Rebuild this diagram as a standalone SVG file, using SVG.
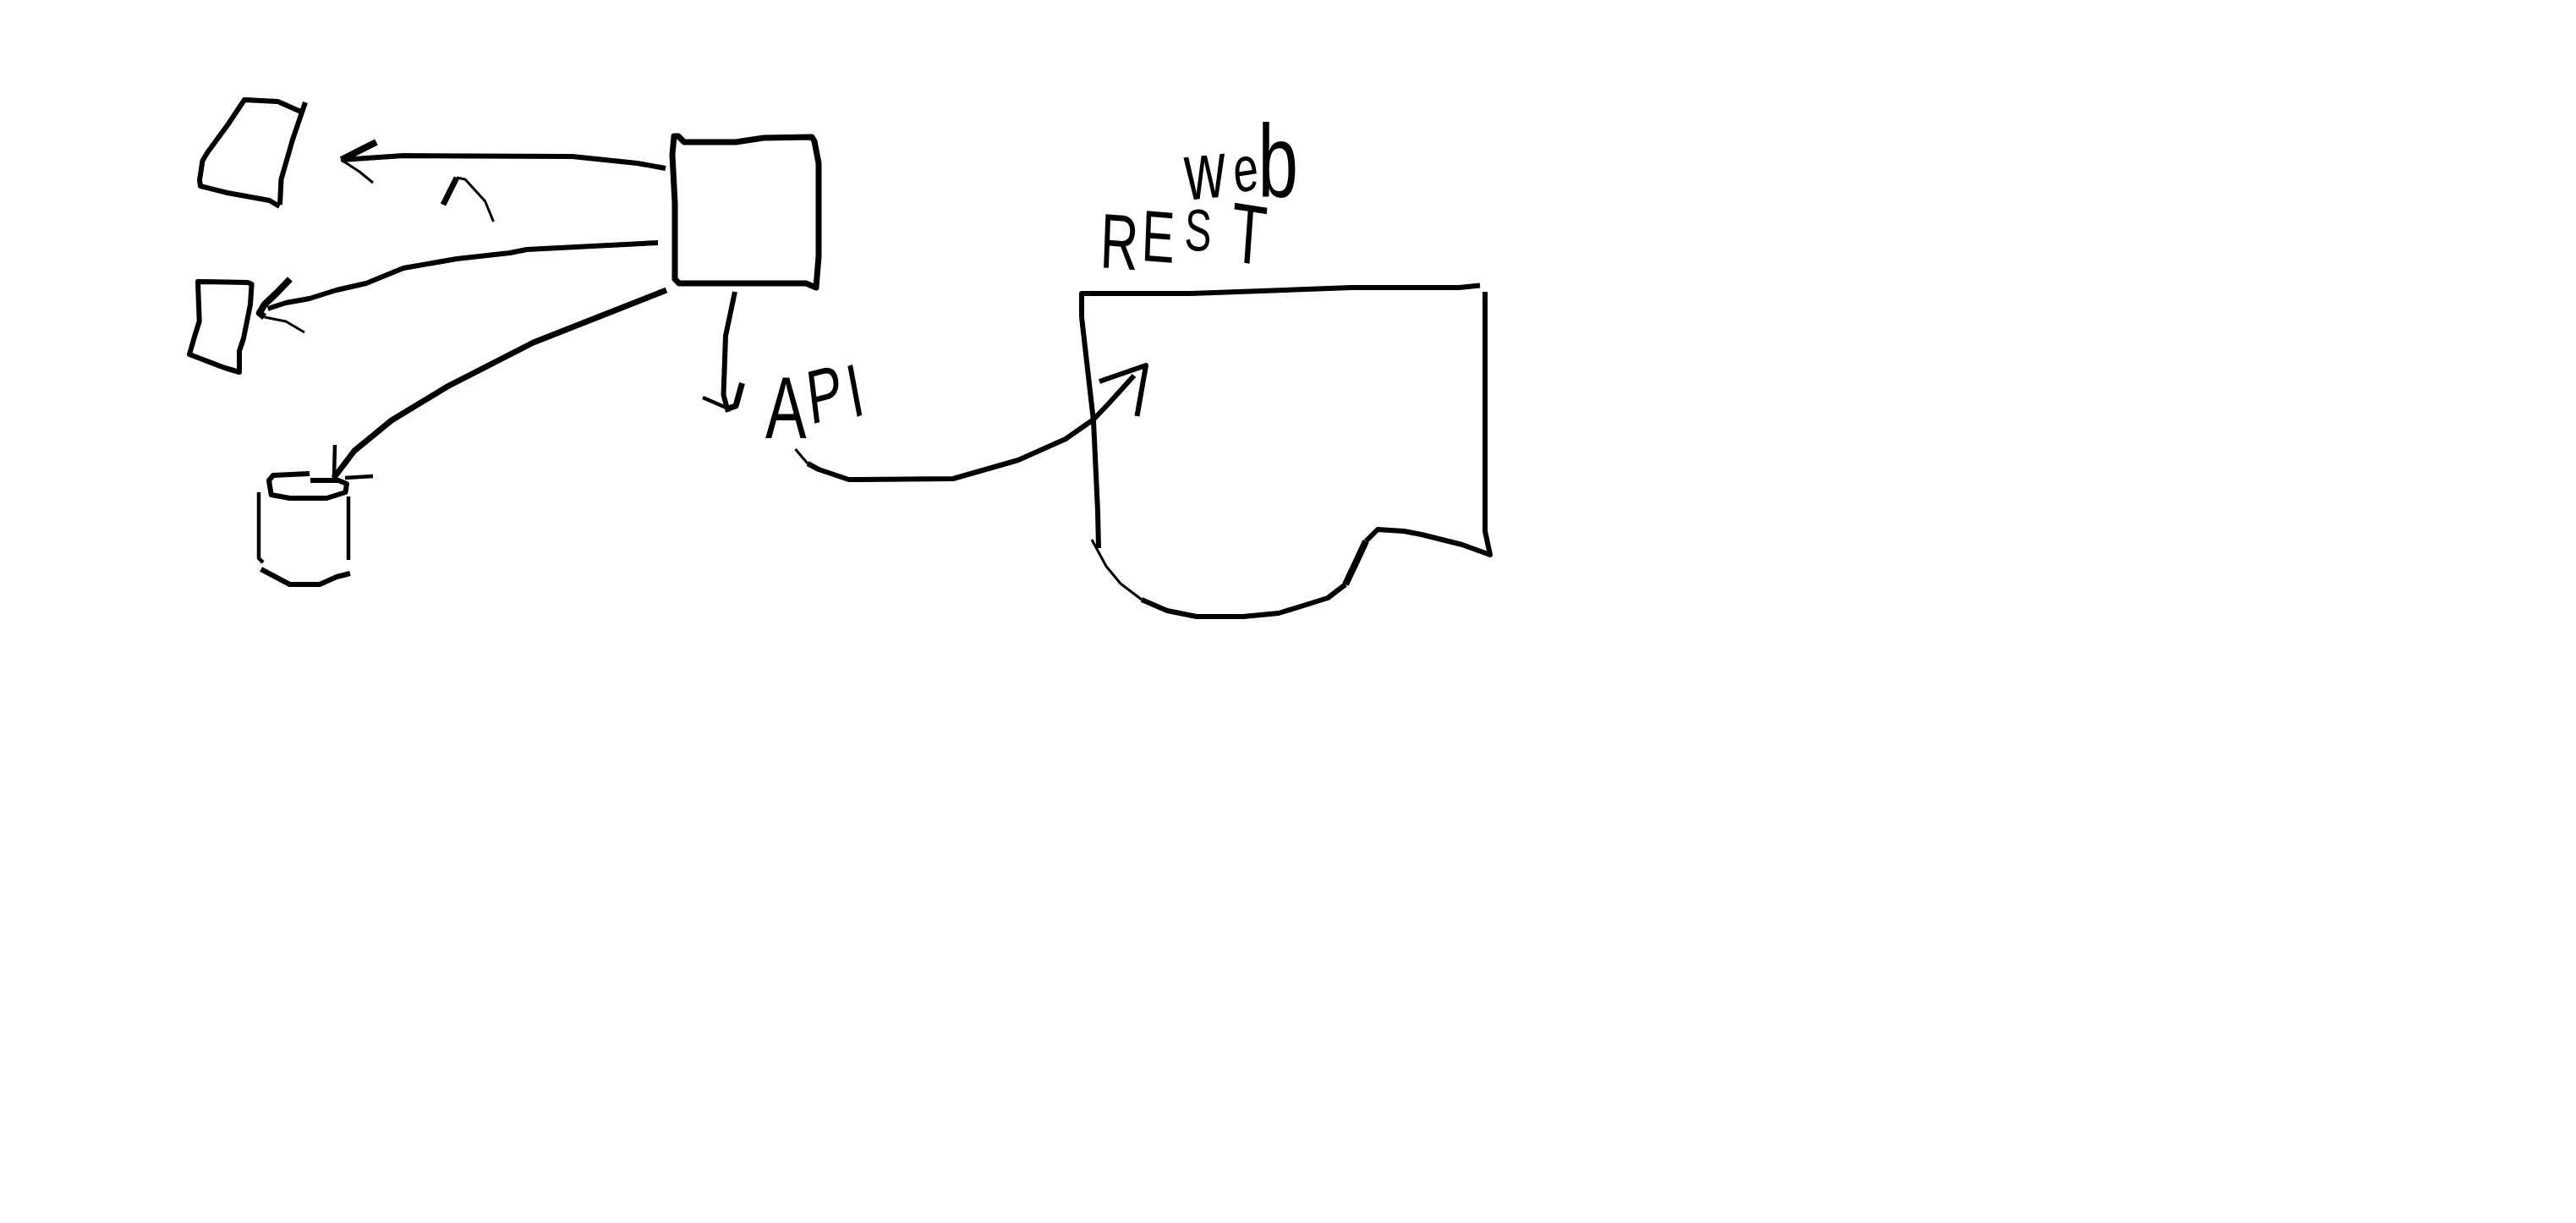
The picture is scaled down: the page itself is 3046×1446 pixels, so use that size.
<svg xmlns="http://www.w3.org/2000/svg" width="3046" height="1446" viewBox="0 0 3046 1446">
<style>
path{fill:none;stroke:#000;stroke-linejoin:round;stroke-linecap:butt}
.t2{stroke-width:3}.t4{stroke-width:4.500}.t5{stroke-width:6}.t6{stroke-width:7}.t8{stroke-width:8}
text{font-family:"Liberation Sans",Arial,sans-serif;fill:#000}
</style>
<rect width="3046" height="1446" fill="#fff"/>
<g id="node-screen-1">
<path class="t5" d="M358 133L328.500 120L289 118L269 148L245.500 180L239.500 190L236 213L237 220L269 228L318.600 237L330.500 244"/>
<path class="t5" d="M361 121L346 165L332.500 212L331 242"/>
</g>
<g id="node-screen-2">
<path class="t5" d="M234 333L293 334L297.600 336L296 360L288 400L283 415L283 440L266 435L224 419L230 398L235.700 380L234 333Z"/>
</g>
<g id="node-database">
<path class="t5" d="M366 560L323 562L318 568L320.700 585L342.600 589L386.500 589L408.500 582L410 572L400 568L367 568"/>
<path class="t4" d="M306 582L306 660L311 665"/>
<path class="t4" d="M412 587L412 662"/>
<path class="t5" d="M308.600 673L342.600 691L378 691L398 682L414 678"/>
</g>
<g id="node-server">
<path class="t6" d="M797 161L802 161L809 168L870 168L903 163L960 162L963 167L968 193L968 303L965 340L953 335L803 335L798 330L798 240L795 183Z"/>
</g>
<g id="node-document">
<path class="t5" d="M1279 375L1279 347L1408 347L1598 340L1725.500 340L1750 337.500"/>
<path class="t5" d="M1756 345L1756 628L1762 656L1729 644L1681 632L1660 628L1629 626L1615 640"/>
<path class="t8" d="M1615 640L1600 672L1591 691"/>
<path class="t5" d="M1591 691L1570 707L1512 725L1470 729L1415 729L1380 722L1350 709"/>
<path class="t2" d="M1350 709L1325 690L1308 669.500L1291 638"/>
<path class="t5" d="M1279 375L1293 497.600L1298 604L1299 648"/>
</g>
<g id="connectors">
<path class="t5" d="M787 199L753.600 193L676.500 185L477 184L403.600 189"/>
<path class="t8" d="M445 168L425 178L403.600 189"/>
<path class="t2" d="M403.600 189L425 203L441 216"/>
<path class="t5" d="M778 287L623 295L603 299L540 306L477 317L433 335L397.700 343L366 353L338 358L316.600 365"/>
<path class="t8" d="M343 330L326.500 347L312.700 360L306.800 370L312.700 375"/>
<path class="t2" d="M312.700 375L338 380L360 393"/>
<path class="t6" d="M788 343L630.600 405L529 457L463 497L419 533L394.700 565"/>
<path class="t4" d="M396 526L395 565"/>
<path class="t4" d="M408 565L441 563"/>
<path class="t5" d="M869 345L858 397L855.500 467L861 487"/>
<path class="t4" d="M831 470L861 483"/>
<path class="t6" d="M877.500 453L870 480L861 483"/>
<path class="t2" d="M940.500 531L955 548"/>
<path class="t5" d="M955 548L968 555L1003.600 567L1127 566L1204 544L1260 519L1293 496L1312 476L1341 444"/>
<path class="t5" d="M1300 451L1355 432L1344.500 492"/>
</g>
<path id="stray-mark" class="t2" d="M540 210L550 212L573.700 238L583.500 262"/>
<path id="stray-mark-thick" class="t6" d="M524 242L540 210"/>
<text id="label-web" transform="translate(1402 237) scale(.7 1)"><tspan font-size="96" x="0" y="0" rotate="-4">w</tspan><tspan font-size="76" x="83" y="-9" rotate="-6">e</tspan><tspan font-size="122" x="122" y="-4">b</tspan></text>
<text id="label-rest" transform="translate(1300 316) scale(.68 1)"><tspan font-size="92" x="0" y="0" rotate="3">R</tspan><tspan font-size="86" x="72" y="-8" rotate="3">E</tspan><tspan font-size="70" x="147" y="-21" rotate="3">S</tspan><tspan font-size="100" x="226" y="-8" rotate="6">T</tspan></text>
<text id="label-api" transform="translate(905 518) scale(.7 1)"><tspan font-size="104" x="0" y="0">A</tspan><tspan font-size="90" x="76" y="-16" rotate="-10">P</tspan><tspan font-size="90" x="147" y="-23" rotate="-15">I</tspan></text>
</svg>
